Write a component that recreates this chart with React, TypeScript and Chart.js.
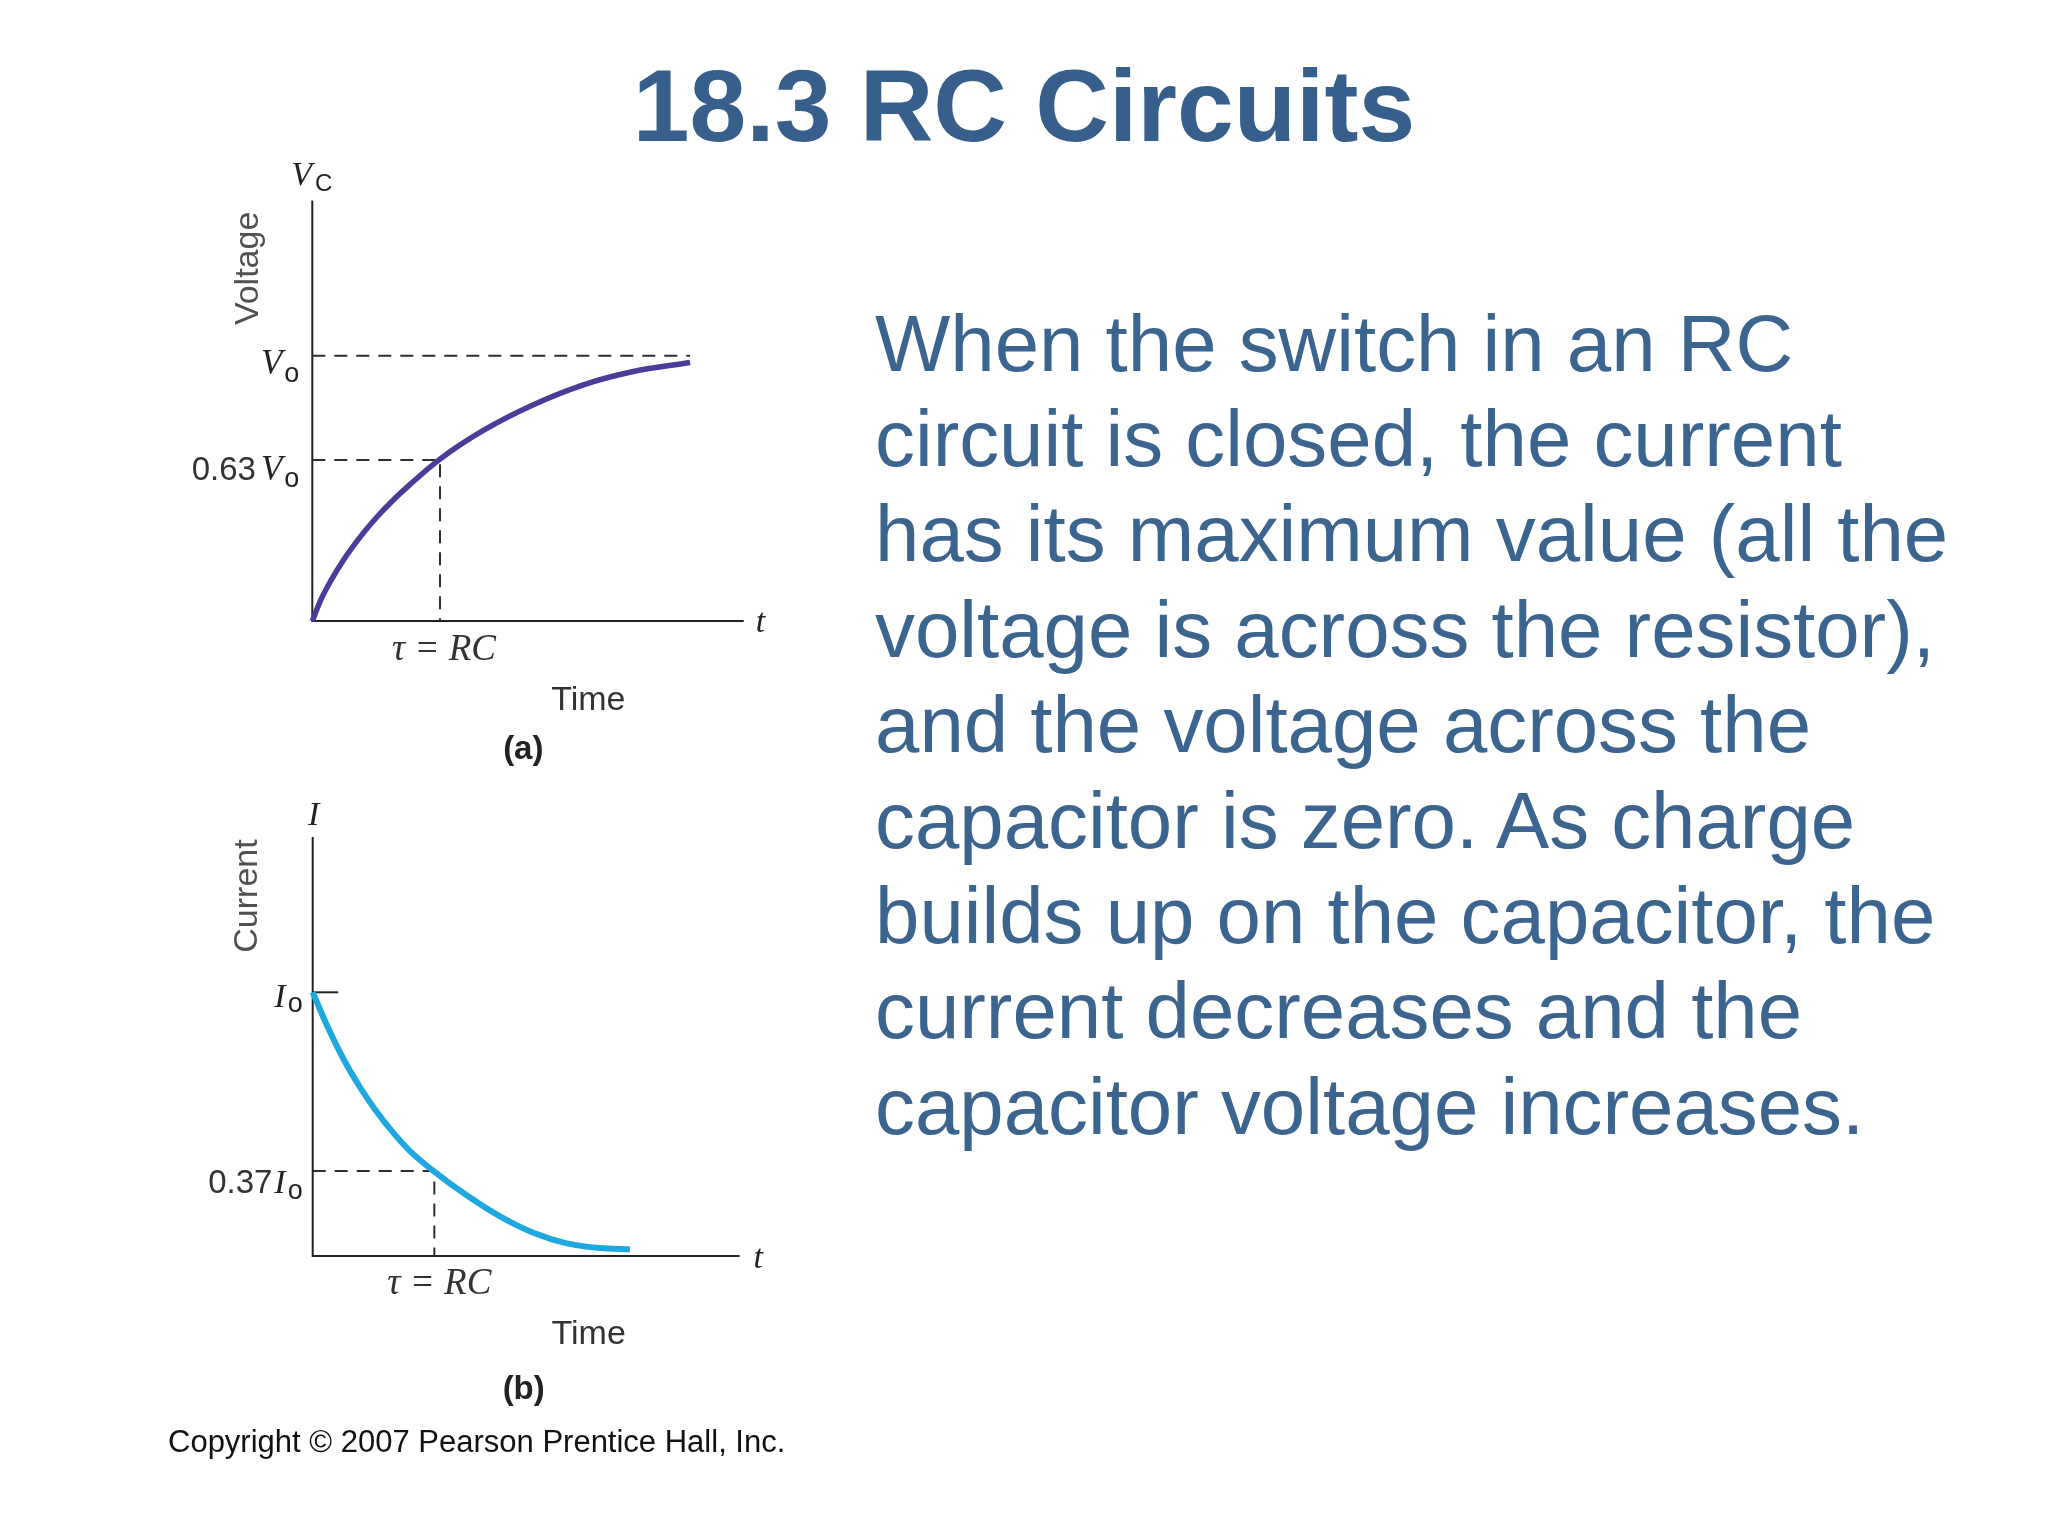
import React, { useEffect, useRef } from "react";
import { Chart, registerables } from "chart.js";

Chart.register(...registerables);

// ---------- Data: (a) capacitor voltage vs time (units of tau, Vo) ----------
const TIME_A = [0, 0.065, 0.143, 0.247, 0.377, 0.506, 0.636, 0.766, 1.0, 1.339, 1.731, 2.123, 2.514, 2.958];
const VOLT_A = [0, 0.078, 0.15, 0.232, 0.318, 0.392, 0.457, 0.515, 0.61, 0.718, 0.815, 0.89, 0.94, 0.974];
const VO_LEVEL = 1;
const V63_LEVEL = 0.607;
const DASH_END_A = 2.958;
const XMAX_A = 3.378;
const YMAX_A = 1.585;

// ---------- Data: (b) current vs time (units of tau, Io) ----------
const TIME_B = [0, 0.115, 0.252, 0.389, 0.526, 0.663, 0.8, 1.0, 1.266, 1.54, 1.814, 2.088, 2.362, 2.608];
const CURR_B = [1.0, 0.877, 0.748, 0.64, 0.547, 0.467, 0.398, 0.32, 0.23, 0.15, 0.088, 0.048, 0.03, 0.025];
const I0_LEVEL = 1;
const I37_LEVEL = 0.322;
const I0_TICK_END = 0.21;
const XMAX_B = 3.51;
const YMAX_B = 1.589;

const TAU = 1;

// ---------- Text ----------
const TITLE = "18.3 RC Circuits";
const BODY_LINES = [
  "When the switch in an RC",
  "circuit is closed, the current",
  "has its maximum value (all the",
  "voltage is across the resistor),",
  "and the voltage across the",
  "capacitor is zero. As charge",
  "builds up on the capacitor, the",
  "current decreases and the",
  "capacitor voltage increases.",
];
const COPYRIGHT = "Copyright \u00A9 2007 Pearson Prentice Hall, Inc.";

const TITLE_COLOR = "#375f8b";
const BODY_COLOR = "#3b648f";
const PURPLE = "#4a3d9a";
const CYAN = "#1ea8df";
const INK = "#222222";
const DASH = "#2e2e2e";

const SANS = "'Liberation Sans', Arial, Helvetica, sans-serif";
const SERIF = "'Liberation Serif', 'Times New Roman', serif";
const fSerifI = (s: number) => `italic ${s}px ${SERIF}`;
const fSans = (s: number) => `${s}px ${SANS}`;
const fSansB = (s: number) => `bold ${s}px ${SANS}`;

type Run = { t: string; f: string; dy?: number; gap?: number; c?: string };

function drawRuns(ctx: CanvasRenderingContext2D, runs: Run[], x: number, y: number, align: "left" | "right" | "center") {
  ctx.save();
  ctx.textBaseline = "alphabetic";
  ctx.textAlign = "left";
  let total = 0;
  const widths = runs.map((r) => {
    ctx.font = r.f;
    const w = ctx.measureText(r.t).width + (r.gap || 0);
    total += w;
    return w;
  });
  let cx = align === "left" ? x : align === "right" ? x - total : x - total / 2;
  runs.forEach((r, i) => {
    ctx.font = r.f;
    ctx.fillStyle = r.c || INK;
    ctx.fillText(r.t, cx + (r.gap || 0), y + (r.dy || 0));
    cx += widths[i];
  });
  ctx.restore();
}

function drawRotated(ctx: CanvasRenderingContext2D, text: string, x: number, y: number, font: string, color: string) {
  ctx.save();
  ctx.translate(x, y);
  ctx.rotate(-Math.PI / 2);
  ctx.font = font;
  ctx.fillStyle = color;
  ctx.textAlign = "center";
  ctx.textBaseline = "middle";
  ctx.fillText(text, 0, 0);
  ctx.restore();
}

const axesPlugin = {
  id: "rcAxes",
  beforeDatasetsDraw(chart: any) {
    const { ctx, chartArea: ca } = chart;
    ctx.save();
    ctx.strokeStyle = INK;
    ctx.lineWidth = 2;
    ctx.beginPath();
    ctx.moveTo(ca.left, ca.top);
    ctx.lineTo(ca.left, ca.bottom);
    ctx.lineTo(ca.right, ca.bottom);
    ctx.stroke();
    ctx.restore();
  },
};

const labelsA = {
  id: "labelsA",
  afterDraw(chart: any) {
    const { ctx, chartArea: ca } = chart;
    const xs = chart.scales.x;
    const ys = chart.scales.y;
    const ox = xs.getPixelForValue(0);
    const oy = ys.getPixelForValue(0);
    drawRuns(ctx, [{ t: "V", f: fSerifI(34) }, { t: "C", f: fSans(24), dy: 6, gap: 3 }], ox - 21, ca.top - 15, "left");
    drawRotated(ctx, "Voltage", ox - 64, ca.top + 68, fSans(34), "#505050");
    drawRuns(ctx, [{ t: "V", f: fSerifI(35) }, { t: "o", f: fSans(27), dy: 8, gap: 2 }], ox - 13, ys.getPixelForValue(VO_LEVEL) + 18, "right");
    drawRuns(
      ctx,
      [
        { t: "0.63", f: fSans(33), c: "#333" },
        { t: "V", f: fSerifI(35), gap: 5 },
        { t: "o", f: fSans(27), dy: 7, gap: 2 },
      ],
      ox - 13,
      ys.getPixelForValue(V63_LEVEL) + 20,
      "right"
    );
    drawRuns(ctx, [{ t: "\u03C4 = RC", f: fSerifI(37), c: "#333" }], xs.getPixelForValue(TAU) + 4, oy + 39, "center");
    drawRuns(ctx, [{ t: "t", f: fSerifI(34) }], ca.right + 12, oy + 11, "left");
    drawRuns(ctx, [{ t: "Time", f: fSans(34), c: "#333" }], ox + 276, oy + 89, "center");
    drawRuns(ctx, [{ t: "(a)", f: fSansB(33), c: "#222" }], ox + 211, oy + 138, "center");
  },
};

const labelsB = {
  id: "labelsB",
  afterDraw(chart: any) {
    const { ctx, chartArea: ca } = chart;
    const xs = chart.scales.x;
    const ys = chart.scales.y;
    const ox = xs.getPixelForValue(0);
    const oy = ys.getPixelForValue(0);
    drawRuns(ctx, [{ t: "I", f: fSerifI(34) }], ox + 1, ca.top - 12, "center");
    drawRotated(ctx, "Current", ox - 65, ca.top + 59, fSans(34), "#505050");
    drawRuns(ctx, [{ t: "I", f: fSerifI(34) }, { t: "o", f: fSans(27), dy: 5, gap: 2 }], ox - 10, ys.getPixelForValue(I0_LEVEL) + 15, "right");
    drawRuns(
      ctx,
      [
        { t: "0.37", f: fSans(33), c: "#333" },
        { t: "I", f: fSerifI(34), gap: 2 },
        { t: "o", f: fSans(27), dy: 6, gap: 2 },
      ],
      ox - 10,
      ys.getPixelForValue(I37_LEVEL) + 22,
      "right"
    );
    drawRuns(ctx, [{ t: "\u03C4 = RC", f: fSerifI(37), c: "#333" }], xs.getPixelForValue(TAU) + 5, oy + 38, "center");
    drawRuns(ctx, [{ t: "t", f: fSerifI(34) }], ca.right + 14, oy + 12, "left");
    drawRuns(ctx, [{ t: "Time", f: fSans(34), c: "#333" }], ox + 276, oy + 88, "center");
    drawRuns(ctx, [{ t: "(b)", f: fSansB(33), c: "#222" }], ox + 211, oy + 143, "center");
  },
};

const pts = (xs: number[], ys: number[]) => xs.map((x, i) => ({ x, y: ys[i] }));

function baseOptions(xmax: number, ymax: number, padding: any) {
  return {
    animation: false as const,
    responsive: false,
    devicePixelRatio: 1,
    events: [] as any[],
    layout: { padding },
    plugins: { legend: { display: false }, tooltip: { enabled: false }, title: { display: false } },
    scales: {
      x: { type: "linear" as const, min: 0, max: xmax, display: false },
      y: { type: "linear" as const, min: 0, max: ymax, display: false },
    },
    elements: { point: { radius: 0 } },
  };
}

function configA(): any {
  return {
    type: "line",
    data: {
      datasets: [
        {
          data: pts(TIME_A, VOLT_A),
          borderColor: PURPLE,
          borderWidth: 5.5,
          cubicInterpolationMode: "monotone",
          pointRadius: 0,
          clip: false,
          fill: false,
        },
        {
          data: [
            { x: 0, y: VO_LEVEL },
            { x: DASH_END_A, y: VO_LEVEL },
          ],
          borderColor: DASH,
          borderWidth: 2,
          borderDash: [13, 9],
          pointRadius: 0,
          clip: false,
        },
        {
          data: [
            { x: 0, y: V63_LEVEL },
            { x: TAU, y: V63_LEVEL },
            { x: TAU, y: 0 },
          ],
          borderColor: DASH,
          borderWidth: 2,
          borderDash: [13, 9],
          pointRadius: 0,
          clip: false,
        },
      ],
    },
    options: baseOptions(XMAX_A, YMAX_A, { left: 162.3, top: 60.4, right: 56.3, bottom: 179 }),
    plugins: [axesPlugin, labelsA],
  };
}

function configB(): any {
  return {
    type: "line",
    data: {
      datasets: [
        {
          data: pts(TIME_B, CURR_B),
          borderColor: CYAN,
          borderWidth: 6,
          cubicInterpolationMode: "monotone",
          pointRadius: 0,
          clip: false,
          fill: false,
        },
        {
          data: [
            { x: 0, y: I0_LEVEL },
            { x: I0_TICK_END, y: I0_LEVEL },
          ],
          borderColor: INK,
          borderWidth: 2,
          pointRadius: 0,
          clip: false,
        },
        {
          data: [
            { x: 0, y: I37_LEVEL },
            { x: TAU, y: I37_LEVEL },
            { x: TAU, y: 0 },
          ],
          borderColor: DASH,
          borderWidth: 2,
          borderDash: [13, 9],
          pointRadius: 0,
          clip: false,
        },
      ],
    },
    options: baseOptions(XMAX_B, YMAX_B, { left: 162.7, top: 57, right: 60.4, bottom: 164 }),
    plugins: [axesPlugin, labelsB],
  };
}

export default function App() {
  const refA = useRef<HTMLCanvasElement>(null);
  const refB = useRef<HTMLCanvasElement>(null);

  useEffect(() => {
    const a = new Chart(refA.current as HTMLCanvasElement, configA());
    const b = new Chart(refB.current as HTMLCanvasElement, configB());
    return () => {
      a.destroy();
      b.destroy();
    };
  }, []);

  return (
    <div
      style={{
        position: "absolute",
        left: 0,
        top: 0,
        width: 2048,
        height: 1536,
        background: "#ffffff",
        overflow: "hidden",
        fontFamily: SANS,
      }}
    >
      <div
        style={{
          position: "absolute",
          left: 0,
          top: 55,
          width: 2048,
          textAlign: "center",
          fontSize: 102,
          fontWeight: "bold",
          lineHeight: "102px",
          color: TITLE_COLOR,
          whiteSpace: "nowrap",
        }}
      >
        {TITLE}
      </div>
      <div
        style={{
          position: "absolute",
          left: 875,
          top: 295.6,
          fontSize: 79.8,
          lineHeight: "95.4px",
          color: BODY_COLOR,
          whiteSpace: "pre",
        }}
      >
        {BODY_LINES.map((l, i) => (
          <div key={i}>{l}</div>
        ))}
      </div>
      <canvas
        ref={refA}
        width={650}
        height={660}
        style={{ position: "absolute", left: 150, top: 140, width: 650, height: 660 }}
      />
      <canvas
        ref={refB}
        width={650}
        height={640}
        style={{ position: "absolute", left: 150, top: 780, width: 650, height: 640 }}
      />
      <div
        style={{
          position: "absolute",
          left: 168,
          top: 1425.7,
          fontSize: 31,
          lineHeight: "31px",
          color: "#111",
          whiteSpace: "nowrap",
        }}
      >
        {COPYRIGHT}
      </div>
    </div>
  );
}
